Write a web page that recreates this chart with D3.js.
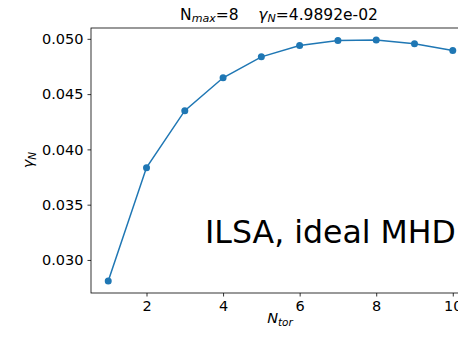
<!DOCTYPE html>
<html>
<head>
<meta charset="utf-8">
<script src="https://cdn.jsdelivr.net/npm/d3@7"></script>
<style>
  body { margin: 0; background: #fff; }
  text { font-family: "DejaVu Sans", sans-serif; }
</style>
</head>
<body>
<svg id="chart" width="458" height="337"></svg>
<script>
// data
const nTor = [1, 2, 3, 4, 5, 6, 7, 8, 9, 10];
const gammaN = [0.02810, 0.03835, 0.04350, 0.04648, 0.04837, 0.04940, 0.04985, 0.049892, 0.04955, 0.04894];
const xTicks = [2, 4, 6, 8, 10];
const yTicks = [0.030, 0.035, 0.040, 0.045, 0.050];

const margin = { top: 28, left: 91, bottom: 293, right: 470 };
const svg = d3.select('#chart');

const x = d3.scaleLinear().domain([0.55, 10.45]).range([margin.left, margin.right]);
const y = d3.scaleLinear().domain([0.02701, 0.05098]).range([margin.bottom, margin.top]);

// axes
const gx = svg.append('g')
  .attr('transform', 'translate(0,' + margin.bottom + ')')
  .call(d3.axisBottom(x).tickValues(xTicks).tickFormat(d3.format('d')).tickSizeOuter(0).tickSize(3.5).tickPadding(4));
const gy = svg.append('g')
  .attr('transform', 'translate(' + margin.left + ',0)')
  .call(d3.axisLeft(y).tickValues(yTicks).tickFormat(d3.format('.3f')).tickSizeOuter(0).tickSize(3.5).tickPadding(4));

[gx, gy].forEach(g => {
  g.select('.domain').remove();
  g.selectAll('text').attr('font-size', 14.5).attr('fill', '#000').attr('font-family', 'DejaVu Sans');
  g.selectAll('line').attr('stroke', '#000').attr('stroke-width', 0.8);
});

// spines
svg.append('rect')
  .attr('x', margin.left).attr('y', margin.top)
  .attr('width', margin.right - margin.left).attr('height', margin.bottom - margin.top)
  .attr('fill', 'none').attr('stroke', '#000').attr('stroke-width', 0.8);

// the line and the markers
const line = d3.line().x((d, i) => x(nTor[i])).y(d => y(d));
svg.append('path')
  .datum(gammaN)
  .attr('d', line)
  .attr('fill', 'none')
  .attr('stroke', '#1f77b4')
  .attr('stroke-width', 1.5);

svg.selectAll('.dot')
  .data(gammaN)
  .enter().append('circle')
  .attr('class', 'dot')
  .attr('cx', (d, i) => x(nTor[i]))
  .attr('cy', d => y(d))
  .attr('r', 3.5)
  .attr('fill', '#1f77b4');

// title
const title = svg.append('text')
  .attr('x', 279)
  .attr('y', 20)
  .attr('text-anchor', 'middle')
  .attr('font-size', 14);
title.append('tspan').text('N');
title.append('tspan').attr('font-style', 'italic').attr('font-size', 10).attr('dy', 2).text('max');
title.append('tspan').attr('dy', -2).text('=8\u00a0\u00a0\u00a0\u00a0');
title.append('tspan').attr('font-style', 'italic').text('\u03b3');
title.append('tspan').attr('font-style', 'italic').attr('font-size', 10).attr('dy', 2).text('N');
title.append('tspan').attr('dy', -2).text('=4.9892e-02');
// stretch to the width seen in the picture
const tw = title.node().getComputedTextLength();
title.attr('font-size', 14 * 198 / tw);
title.selectAll('tspan[font-size]').attr('font-size', 10 * 198 / tw);

// x label
const xl = svg.append('text')
  .attr('x', 280).attr('y', 323)
  .attr('text-anchor', 'middle')
  .attr('font-size', 14.5)
  .attr('font-style', 'italic');
xl.append('tspan').text('N');
xl.append('tspan').attr('font-size', 10.5).attr('dy', 3).text('tor');

// y label
const yl = svg.append('text')
  .attr('transform', 'translate(33,160) rotate(-90)')
  .attr('text-anchor', 'middle')
  .attr('font-size', 14.5)
  .attr('font-style', 'italic');
yl.append('tspan').text('\u03b3');
yl.append('tspan').attr('font-size', 10.5).attr('dy', 3).text('N');

// overlay label
const ov = svg.append('text')
  .attr('x', 205).attr('y', 243)
  .attr('font-family', 'Lato')
  .attr('font-size', 34)
  .attr('fill', '#000')
  .text('ILSA, ideal MHD');
const ow = ov.node().getComputedTextLength();
ov.attr('font-size', 34 * 251 / ow);
</script>
</body>
</html>
